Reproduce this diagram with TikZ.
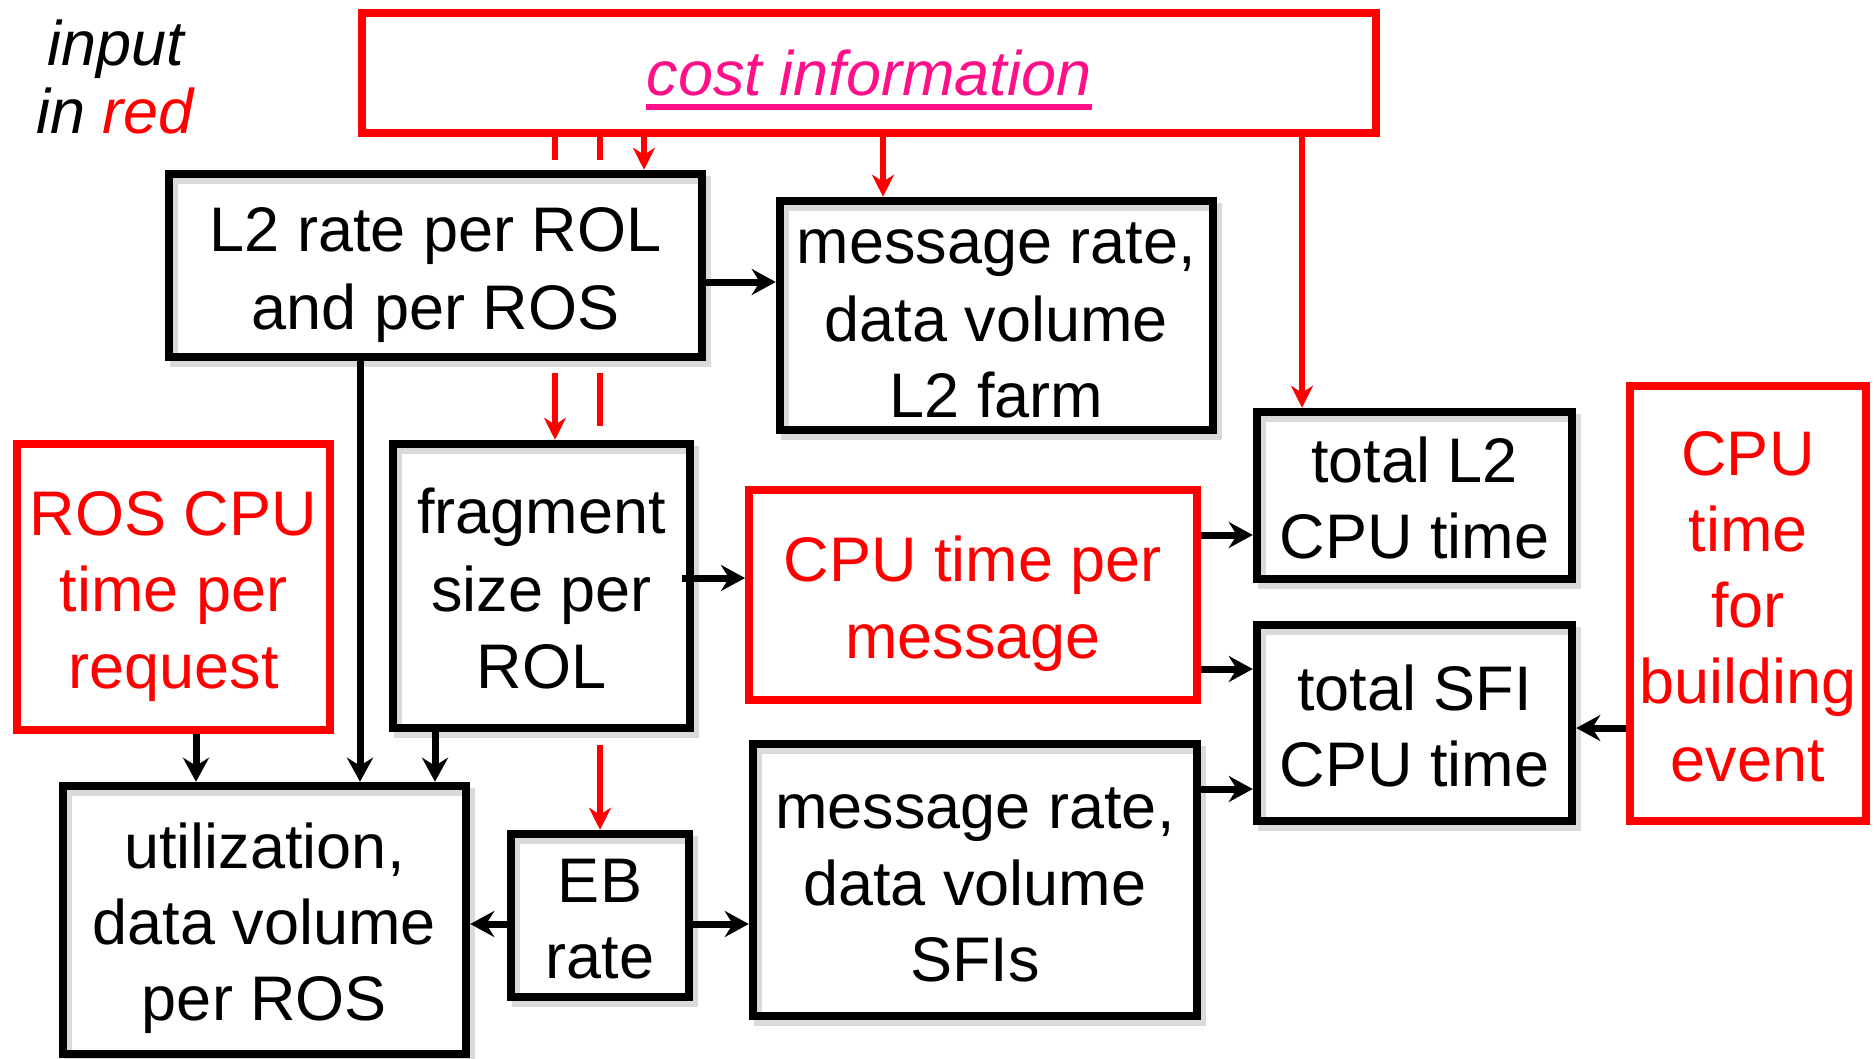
\documentclass[tikz,border=0pt]{standalone}
\usepackage{fontspec}
\setmainfont{Liberation Sans}
\usetikzlibrary{arrows.meta,calc}

\definecolor{inred}{RGB}{255,0,0}
\definecolor{costpink}{RGB}{255,16,136}
\definecolor{shade}{RGB}{218,218,218}

% fixed line box so that text sits in its box the same way on every line
\newcommand\ls{\rule[-13pt]{0pt}{76pt}}

\tikzset{
  every node/.style={font=\fontsize{63}{76}\selectfont, inner sep=0pt, align=center},
  blackbox/.style={draw=black, line width=8.5pt,
    preaction={draw=shade, line width=8pt, transform canvas={xshift=5pt,yshift=-6pt}}},
  redbox/.style={draw=inred, line width=8pt, text=inred},
  flow/.style={line width=7pt, -{Stealth[length=24pt,width=26pt,inset=8pt]}},
  feed/.style={draw=inred, line width=6pt, -{Stealth[length=22pt,width=22pt,inset=7pt]}},
  stub/.style={draw=inred, line width=6pt},
}

\begin{document}
\begin{tikzpicture}[x=1pt,y=-1pt]
\useasboundingbox (0,0) rectangle (1874,1058);

% legend
\node[anchor=base, font=\fontsize{63}{76}\selectfont\itshape] (inp) at (116,65) {input};
\node[anchor=base, font=\fontsize{63}{76}\selectfont\itshape] (inred) at (115,133) {in \textcolor{inred}{red}};

% cost information source
\node[redbox, minimum width=1014pt, minimum height=120pt] (cost) at (869,73) {};
\node[anchor=base, text=costpink, font=\fontsize{63}{76}\selectfont\itshape] (costtxt) at (869,95) {cost information};
\draw[costpink, line width=6pt] ([yshift=-12pt]costtxt.base west) -- ([yshift=-12pt]costtxt.base east);

% derived quantities
\node[blackbox, minimum width=533pt, minimum height=183pt] (l2) at (435.5,265.5) {\ls L2 rate per ROL\\\ls and per ROS};
\node[blackbox, minimum width=433pt, minimum height=219pt] (msgl2) at (996.5,315.5) {\ls message rate,\\\ls data volume\\\ls L2 farm};
\node[blackbox, minimum width=315pt, minimum height=167pt] (totl2) at (1414.5,495.5) {\ls total L2\\\ls CPU time};
\node[blackbox, minimum width=297pt, minimum height=284pt] (frag) at (541.5,586) {\ls fragment\\\ls size per\\\ls ROL};
\node[blackbox, minimum width=315pt, minimum height=196pt] (totsfi) at (1414.5,723) {\ls total SFI\\\ls CPU time};
\node[blackbox, minimum width=403pt, minimum height=268pt] (util) at (264.5,920) {\ls utilization,\\\ls data volume\\\ls per ROS};
\node[blackbox, minimum width=178pt, minimum height=163pt] (eb) at (600,915.5) {\ls EB\\\ls rate};
\node[blackbox, minimum width=444pt, minimum height=272pt] (msgsfi) at (975,880) {\ls message rate,\\\ls data volume\\\ls SFIs};

% further inputs
\node[redbox, minimum width=236pt, minimum height=435pt] (bld) at (1748,603.5) {\ls CPU\\\ls time\\\ls for\\\ls building\\\ls event};
\node[redbox, minimum width=313pt, minimum height=286pt] (ros) at (173.5,587) {\ls ROS CPU\\\ls time per\\\ls request};
\node[redbox, minimum width=448pt, minimum height=210pt] (cpum) at (973,595) {\ls CPU time per\\\ls message};

% connector lanes
\coordinate (yA) at (0,282);
\coordinate (yB) at (0,578);
\coordinate (yC) at (0,924);
\coordinate (yD) at (0,535);
\coordinate (yE) at (0,669);
\coordinate (yF) at (0,789);
\coordinate (yG) at (0,728);
\coordinate (xA) at (360,0);
\coordinate (xB) at (196,0);
\coordinate (xC) at (435,0);
\coordinate (xD) at (555,0);
\coordinate (xE) at (600,0);
\coordinate (xF) at (644,0);
\coordinate (xG) at (883,0);
\coordinate (xH) at (1302,0);

% black data flow
\draw[flow] (l2.east |- yA) -- (msgl2.west |- yA);
\draw[flow, shorten <=-12pt] (frag.east |- yB) -- (cpum.west |- yB);
\draw[flow] (eb.west |- yC) -- (util.east |- yC);
\draw[flow] (eb.east |- yC) -- (msgsfi.west |- yC);
\draw[flow] (cpum.east |- yD) -- (totl2.west |- yD);
\draw[flow] (cpum.east |- yE) -- (totsfi.west |- yE);
\draw[flow] (msgsfi.east |- yF) -- (totsfi.west |- yF);
\draw[flow] (bld.west |- yG) -- (totsfi.east |- yG);
\draw[flow] (l2.south -| xA) -- (util.north -| xA);
\draw[flow] (ros.south -| xB) -- (util.north -| xB);
\draw[flow] (frag.south -| xC) -- (util.north -| xC);

% red input feeds from the cost information
\draw[feed] (cost.south -| xF) -- (l2.north -| xF);
\draw[feed] (cost.south -| xG) -- (msgl2.north -| xG);
\draw[feed] (cost.south -| xH) -- (totl2.north -| xH);
\draw[stub] (cost.south -| xD) -- ($(l2.north -| xD)+(0,-10)$);
\draw[feed] ($(l2.south -| xD)+(0,12)$) -- (frag.north -| xD);
\draw[stub] (cost.south -| xE) -- ($(l2.north -| xE)+(0,-10)$);
\draw[stub] ($(l2.south -| xE)+(0,12)$) -- ($(frag.north -| xE)+(0,-14)$);
\draw[feed] ($(frag.south -| xE)+(0,13)$) -- (eb.north -| xE);
\end{tikzpicture}
\end{document}
